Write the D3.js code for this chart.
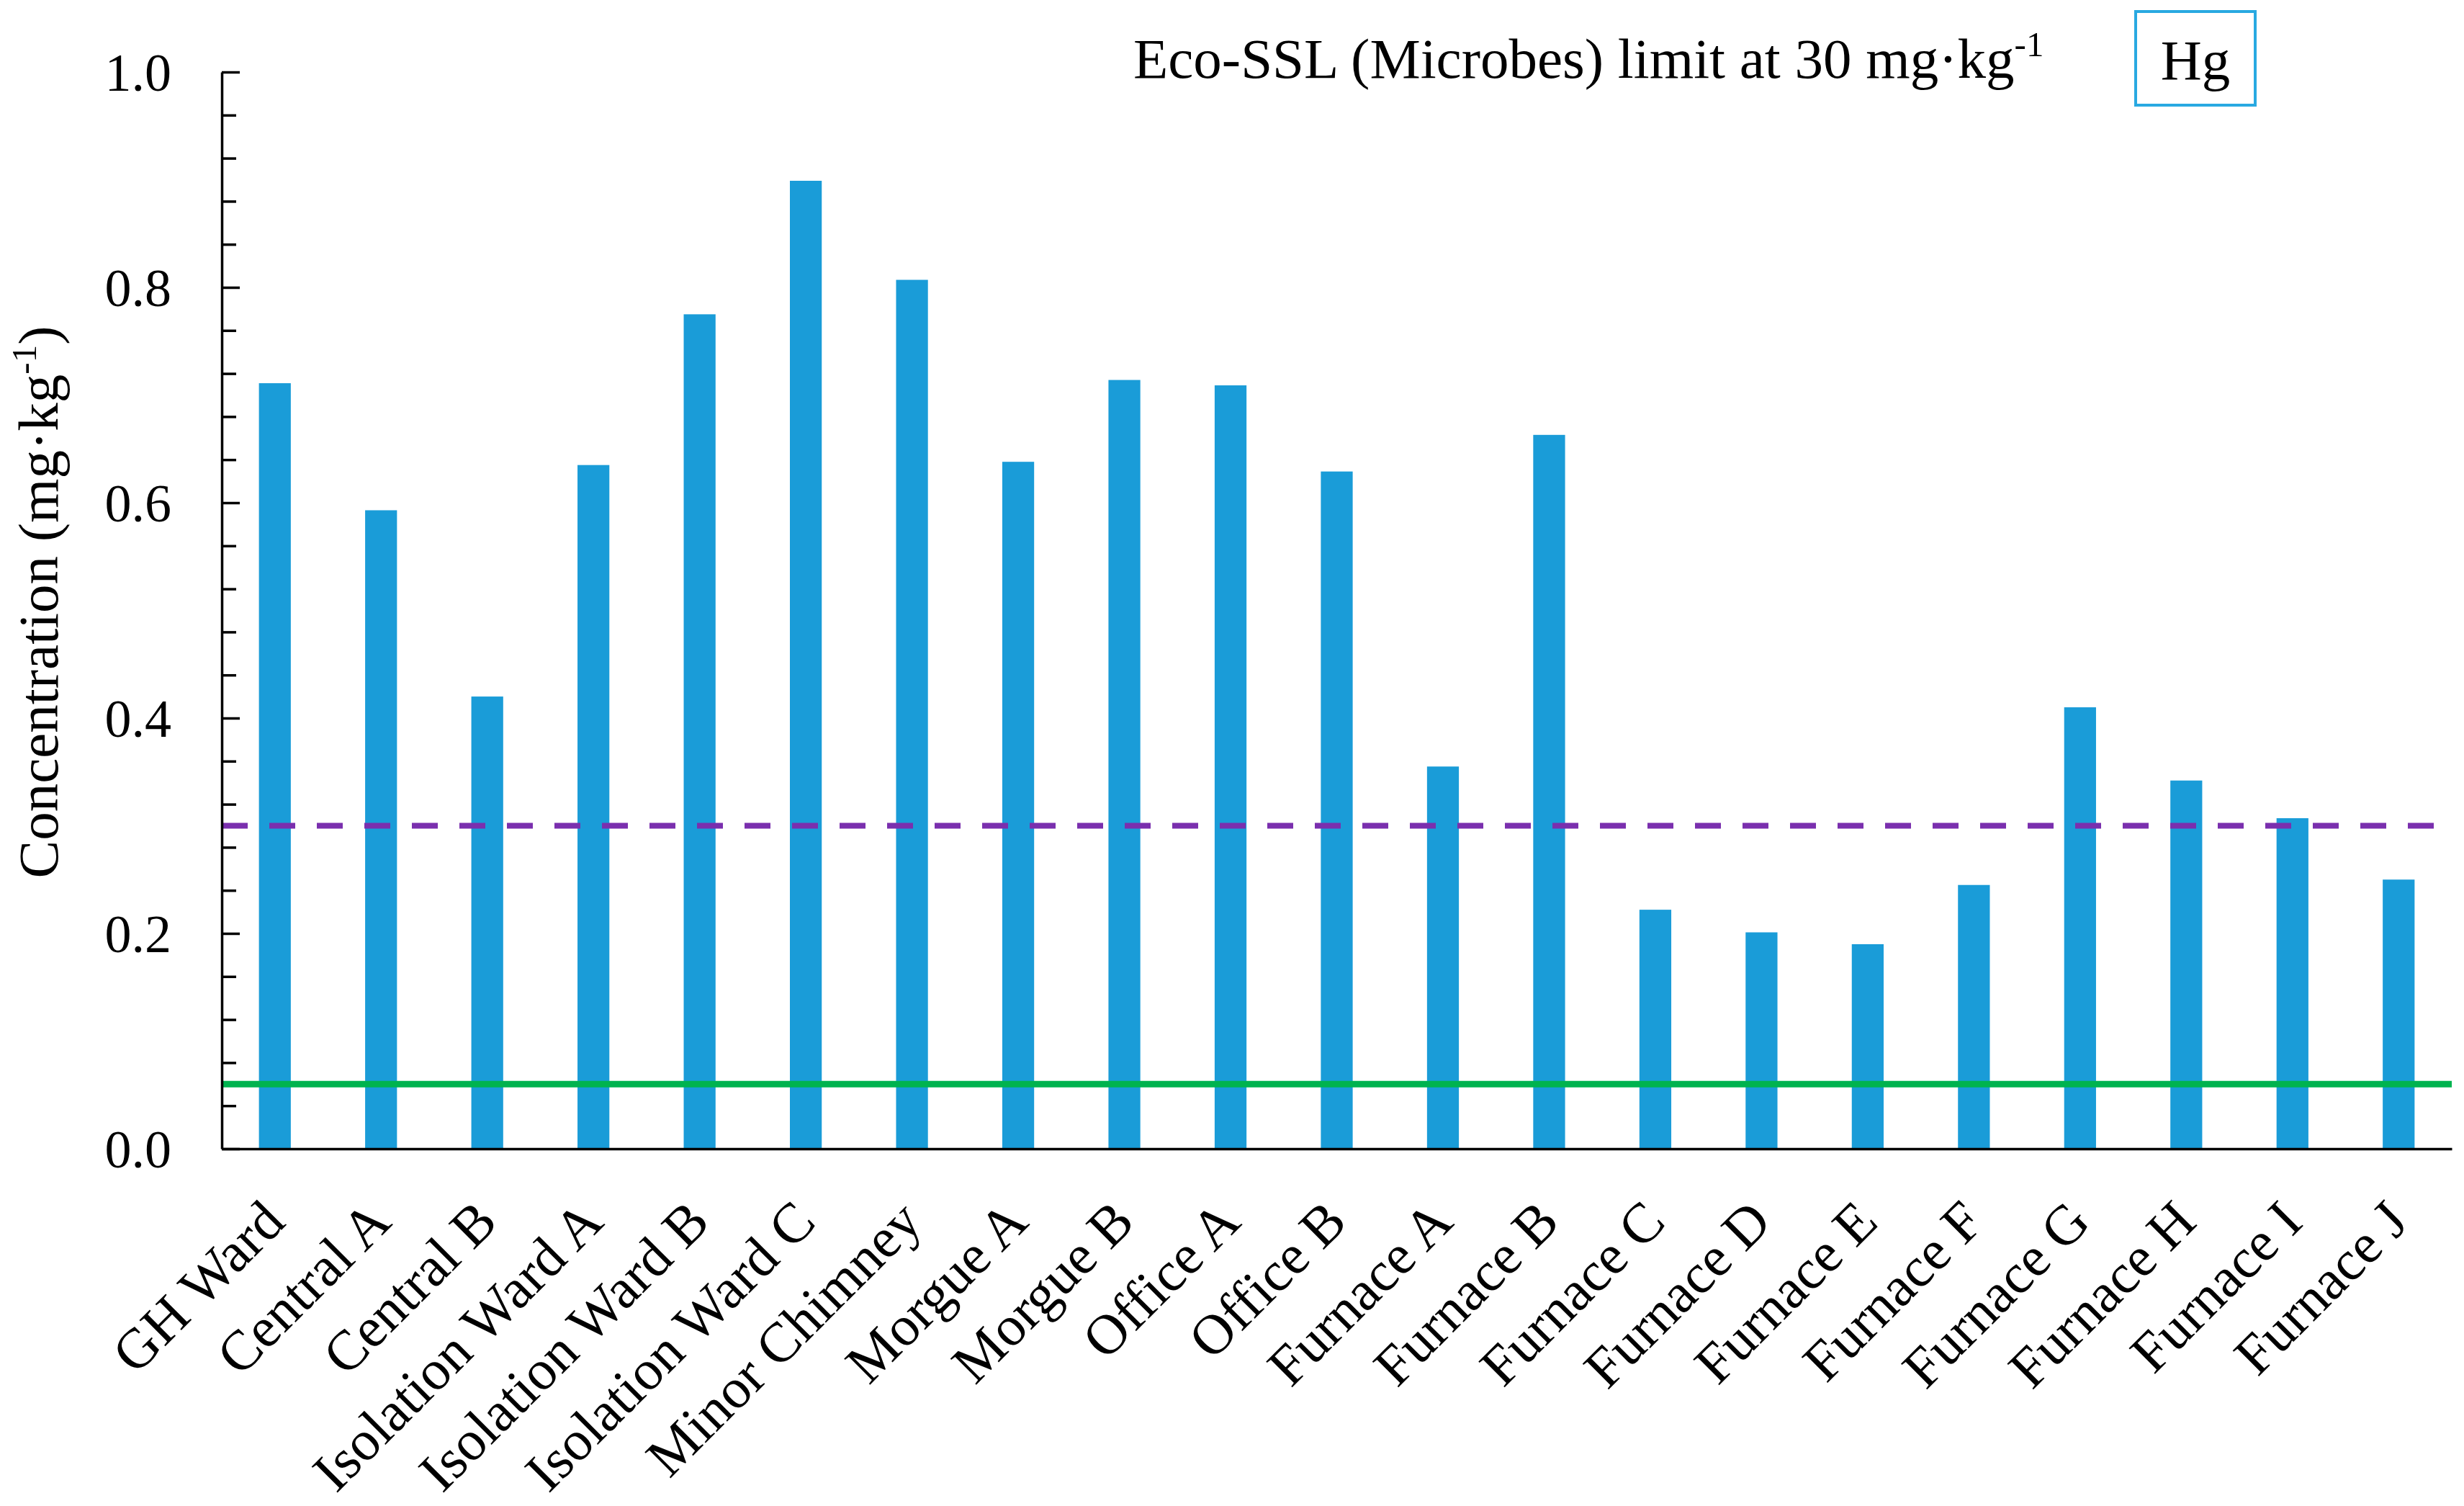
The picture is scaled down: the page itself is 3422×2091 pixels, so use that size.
<!DOCTYPE html>
<html>
<head>
<meta charset="utf-8">
<script src="https://cdn.jsdelivr.net/npm/d3@7"></script>
<style>
  html, body { margin: 0; padding: 0; background: #fff; }
  svg { display: block; }
  text { font-family: "Liberation Serif", "Times New Roman", "DejaVu Serif", serif; fill: #000; }
</style>
</head>
<body>
<svg id="chart" width="3422" height="2091"></svg>
<script>
// ---- data ----
const categories = ["GH Ward", "Central A", "Central B", "Isolation Ward A", "Isolation Ward B",
  "Isolation Ward C", "Minor Chimney", "Morgue A", "Morgue B", "Office A", "Office B",
  "Furnace A", "Furnace B", "Furnace C", "Furnace D", "Furnace E", "Furnace F",
  "Furnace G", "Furnace H", "Furnace I", "Furnace J"];
const values = [0.711, 0.593, 0.420, 0.635, 0.775, 0.899, 0.807, 0.638, 0.714, 0.709, 0.629,
  0.355, 0.663, 0.222, 0.201, 0.190, 0.245, 0.410, 0.342, 0.307, 0.250];
const yMajorTicks = [0.0, 0.2, 0.4, 0.6, 0.8, 1.0];
const yMinorTicks = [0.04, 0.08, 0.12, 0.16, 0.24, 0.28, 0.32, 0.36, 0.44, 0.48, 0.52, 0.56,
  0.64, 0.68, 0.72, 0.76, 0.84, 0.88, 0.92, 0.96];
const purpleLimit = 0.3;
const greenLimit = 0.06;
const titleText = "Eco-SSL (Microbes) limit at 30 mg·kg";
const titleSup = "-1";
const elementLabel = "Hg";
const yLabelMain = "Concentration (mg·kg";
const yLabelSup = "-1";
const yLabelEnd = ")";

// ---- layout ----
const mLeft = 308, mRight = 3405, mTop = 100, mBottom = 1595;
const svg = d3.select("#chart");

const x = d3.scaleBand().domain(categories).range([mLeft, mRight])
  .paddingInner(0.7).paddingOuter(0.35);
const y = d3.scaleLinear().domain([0, 1]).range([mBottom, mTop]);

// bars
svg.append("g").selectAll("rect").data(categories).join("rect")
  .attr("x", d => x(d))
  .attr("width", x.bandwidth())
  .attr("y", (d, i) => y(values[i]))
  .attr("height", (d, i) => y(0) - y(values[i]))
  .attr("fill", "#1a9cd8");

// limit lines
svg.append("line")
  .attr("x1", mLeft).attr("x2", mRight - 5)
  .attr("y1", y(purpleLimit)).attr("y2", y(purpleLimit))
  .attr("stroke", "#7a2fae").attr("stroke-width", 8)
  .attr("stroke-dasharray", "36 30");
svg.append("line")
  .attr("x1", mLeft).attr("x2", mRight)
  .attr("y1", y(greenLimit)).attr("y2", y(greenLimit))
  .attr("stroke", "#00b34f").attr("stroke-width", 9);

// y axis
const yMinor = svg.append("g").attr("transform", `translate(${mLeft},0)`)
  .call(d3.axisLeft(y).tickValues(yMinorTicks).tickSize(-20).tickSizeOuter(0).tickFormat(""));
yMinor.select(".domain").remove();
yMinor.selectAll("line").attr("stroke", "#000").attr("stroke-width", 3.5);

const yAxis = svg.append("g").attr("transform", `translate(${mLeft},0)`)
  .call(d3.axisLeft(y).tickValues(yMajorTicks).tickSize(-25).tickSizeOuter(0)
    .tickPadding(70).tickFormat(d3.format(".1f")));
yAxis.select(".domain").attr("stroke", "#000").attr("stroke-width", 3.5);
yAxis.selectAll("line").attr("stroke", "#000").attr("stroke-width", 3.5);
yAxis.selectAll("text").attr("font-size", 74).attr("font-family", null).attr("dy", "0.34em");

// x axis
const xAxis = svg.append("g").attr("transform", `translate(0,${mBottom})`)
  .call(d3.axisBottom(x).tickSize(0).tickSizeOuter(0));
xAxis.select(".domain").attr("stroke", "#000").attr("stroke-width", 3.5);
xAxis.selectAll("text")
  .attr("font-size", 78).attr("font-family", null)
  .attr("text-anchor", "end")
  .attr("x", 0).attr("y", 0).attr("dy", 0)
  .attr("transform", "translate(17,105) rotate(-45)");

// y label
const yl = svg.append("text")
  .attr("transform", `translate(80,836) rotate(-90)`)
  .attr("text-anchor", "middle")
  .attr("font-size", 79);
yl.append("tspan").text(yLabelMain);
yl.append("tspan").attr("font-size", 49).attr("dy", -30).text(yLabelSup);
yl.append("tspan").attr("dy", 30).text(yLabelEnd);

// title
const t = svg.append("text").attr("x", 1574).attr("y", 108).attr("font-size", 79);
t.append("tspan").text(titleText);
t.append("tspan").attr("font-size", 49).attr("dy", -30).text(titleSup);

// element box
svg.append("rect").attr("x", 2966).attr("y", 16).attr("width", 166).attr("height", 130)
  .attr("fill", "none").attr("stroke", "#29a9e1").attr("stroke-width", 4);
svg.append("text").attr("x", 3049).attr("y", 110).attr("text-anchor", "middle")
  .attr("font-size", 79).text(elementLabel);
</script>
</body>
</html>
